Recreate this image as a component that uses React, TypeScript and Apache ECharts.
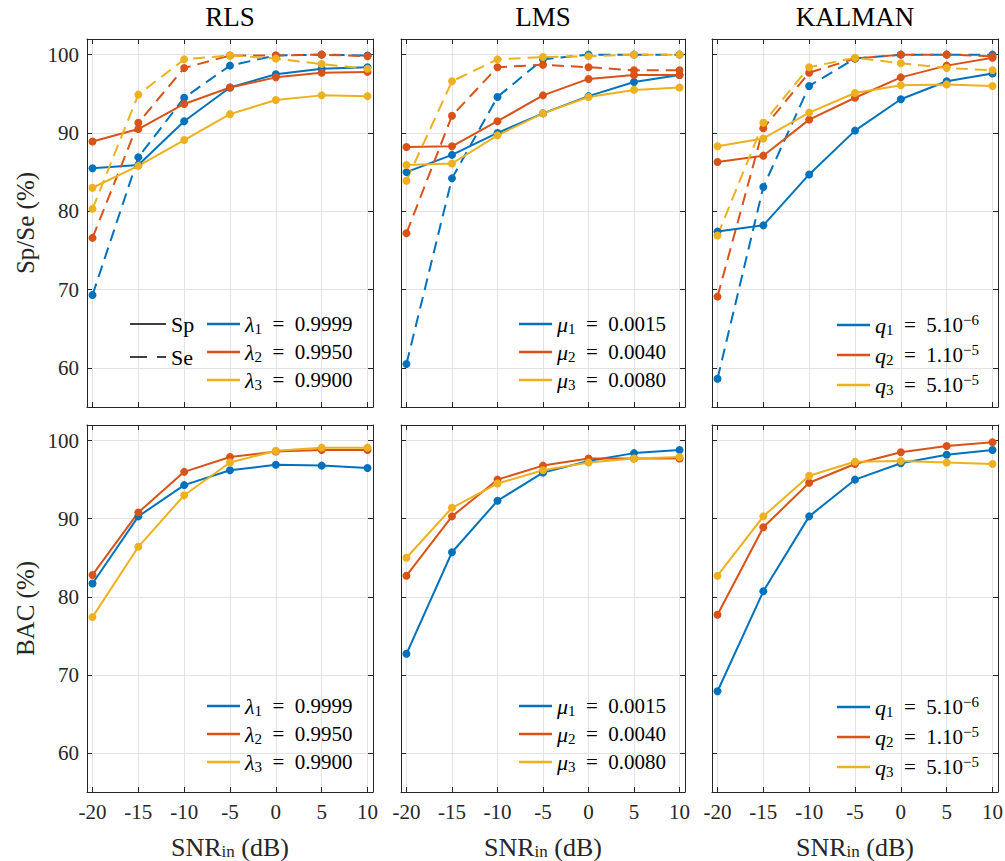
import React, { useEffect, useRef } from 'react';
import * as echarts from 'echarts';

// ---------- data ----------
const snr = [-20, -15, -10, -5, 0, 5, 10];
const xTicks = [-20, -15, -10, -5, 0, 5, 10];
const yTicks = [60, 70, 80, 90, 100];
const methods = ['RLS', 'LMS', 'KALMAN'];

// Specificity (solid) and Sensitivity (dashed)
const spRLS1 = [85.5, 85.9, 91.5, 95.8, 97.5, 98.2, 98.4];
const spRLS2 = [88.9, 90.5, 93.7, 95.8, 97.1, 97.7, 97.8];
const spRLS3 = [83.0, 85.8, 89.1, 92.4, 94.2, 94.8, 94.7];
const seRLS1 = [69.3, 86.9, 94.5, 98.6, 99.9, 100, 99.9];
const seRLS2 = [76.6, 91.3, 98.3, 99.9, 99.9, 100, 99.8];
const seRLS3 = [80.3, 94.9, 99.4, 99.9, 99.5, 98.8, 98.2];

const spLMS1 = [85.0, 87.2, 90.0, 92.5, 94.7, 96.5, 97.4];
const spLMS2 = [88.2, 88.3, 91.5, 94.8, 96.9, 97.4, 97.4];
const spLMS3 = [85.9, 86.1, 89.7, 92.5, 94.6, 95.5, 95.8];
const seLMS1 = [60.5, 84.2, 94.6, 99.4, 100, 100, 100];
const seLMS2 = [77.2, 92.2, 98.4, 98.7, 98.4, 98.0, 98.0];
const seLMS3 = [83.9, 96.6, 99.4, 99.7, 99.8, 100, 100];

const spKAL1 = [77.4, 78.2, 84.7, 90.3, 94.3, 96.6, 97.6];
const spKAL2 = [86.3, 87.1, 91.7, 94.5, 97.1, 98.6, 99.6];
const spKAL3 = [88.3, 89.3, 92.6, 95.1, 96.1, 96.2, 96.0];
const seKAL1 = [58.6, 83.1, 96.0, 99.5, 100, 100, 100];
const seKAL2 = [69.1, 90.6, 97.7, 99.5, 100, 100, 99.8];
const seKAL3 = [76.9, 91.3, 98.4, 99.6, 98.9, 98.3, 98.0];

// Balanced accuracy
const bacRLS1 = [81.7, 90.3, 94.3, 96.2, 96.9, 96.8, 96.5];
const bacRLS2 = [82.8, 90.8, 96.0, 97.9, 98.6, 98.8, 98.8];
const bacRLS3 = [77.4, 86.4, 93.0, 97.2, 98.7, 99.1, 99.1];
const bacLMS1 = [72.7, 85.7, 92.3, 95.9, 97.4, 98.4, 98.8];
const bacLMS2 = [82.7, 90.3, 95.0, 96.8, 97.7, 97.7, 97.7];
const bacLMS3 = [85.0, 91.4, 94.5, 96.2, 97.2, 97.7, 97.9];
const bacKAL1 = [67.9, 80.7, 90.3, 95.0, 97.1, 98.2, 98.8];
const bacKAL2 = [77.7, 88.9, 94.6, 97.0, 98.5, 99.3, 99.8];
const bacKAL3 = [82.7, 90.3, 95.5, 97.3, 97.4, 97.2, 97.0];

const spData = [[spRLS1, spRLS2, spRLS3], [spLMS1, spLMS2, spLMS3], [spKAL1, spKAL2, spKAL3]];
const seData = [[seRLS1, seRLS2, seRLS3], [seLMS1, seLMS2, seLMS3], [seKAL1, seKAL2, seKAL3]];
const bacData = [[bacRLS1, bacRLS2, bacRLS3], [bacLMS1, bacLMS2, bacLMS3], [bacKAL1, bacKAL2, bacKAL3]];

const EQ = '\u2002=\u2002';
const paramLabels: Record<string, string[]> = {
  RLS: [`{g|λ}{s|1}{t|${EQ}0.9999}`, `{g|λ}{s|2}{t|${EQ}0.9950}`, `{g|λ}{s|3}{t|${EQ}0.9900}`],
  LMS: [`{g|μ}{s|1}{t|${EQ}0.0015}`, `{g|μ}{s|2}{t|${EQ}0.0040}`, `{g|μ}{s|3}{t|${EQ}0.0080}`],
  KALMAN: [`{g|q}{s|1}{t|${EQ}5.10}{p|−6}`, `{g|q}{s|2}{t|${EQ}1.10}{p|−5}`, `{g|q}{s|3}{t|${EQ}5.10}{p|−5}`],
};

// ---------- style ----------
const colors = ['#0072BD', '#D95319', '#EDB120'];
const FONT = 'Liberation Serif';
const AX = '#262626';
const GRIDC = '#e3e3e3';

const gridLefts = [87, 401, 712];
const gridWidths = [286, 284, 286];
const rowTops = [39, 425];
const rowHeights = [368, 367];
const legendLefts = [207, 519, 837];
const legendTops = [312, 694];

function buildOption() {
  const grids: any[] = [];
  const xAxes: any[] = [];
  const yAxes: any[] = [];
  const series: any[] = [];
  const legends: any[] = [];
  const titles: any[] = [];

  const rich = {
    g: { fontFamily: FONT, fontSize: 22, fontStyle: 'italic', lineHeight: 22, color: '#000' },
    s: { fontFamily: FONT, fontSize: 15, lineHeight: 22, padding: [9, 0, 0, 0], color: '#000' },
    t: { fontFamily: FONT, fontSize: 21, lineHeight: 22, color: '#000' },
    p: { fontFamily: FONT, fontSize: 15, lineHeight: 22, padding: [0, 0, 11, 0], color: '#000' },
  };

  for (let row = 0; row < 2; row++) {
    for (let col = 0; col < 3; col++) {
      const gi = row * 3 + col;
      grids.push({
        left: gridLefts[col], top: rowTops[row], width: gridWidths[col], height: rowHeights[row],
        outerBoundsMode: 'none',
      });
      const common = {
        gridIndex: gi, type: 'value', min: -20.6, max: 10.6,
        axisLine: { show: true, onZero: false, lineStyle: { color: AX, width: 1 } },
        axisTick: { show: true, inside: true, length: 5, customValues: xTicks, lineStyle: { color: AX } },
      };
      xAxes.push({
        ...common, position: 'bottom',
        axisLabel: {
          show: row === 1, customValues: xTicks, fontFamily: FONT, fontSize: 21, color: AX, margin: 9,
        },
        splitLine: { show: true, lineStyle: { color: GRIDC, width: 1 } },
        name: row === 1 ? '{a|SNR}{s|in}{a| (dB)}' : '',
        nameLocation: 'middle', nameGap: 41,
        nameTextStyle: {
          fontFamily: FONT, fontSize: 26, color: AX,
          rich: {
            a: { fontFamily: FONT, fontSize: 26, lineHeight: 28, color: AX },
            s: { fontFamily: FONT, fontSize: 17, lineHeight: 28, padding: [9, 0, 0, 0], color: AX },
          },
        },
      });
      xAxes.push({
        ...common, position: 'top', axisLabel: { show: false }, splitLine: { show: false },
      });
      const ycommon = {
        gridIndex: gi, type: 'value', min: 55, max: 102,
        axisLine: { show: true, onZero: false, lineStyle: { color: AX, width: 1 } },
        axisTick: { show: true, inside: true, length: 5, customValues: yTicks, lineStyle: { color: AX } },
      };
      yAxes.push({
        ...ycommon, position: 'left',
        axisLabel: { show: col === 0, customValues: yTicks, fontFamily: FONT, fontSize: 21, color: AX, margin: 8 },
        splitLine: { show: true, lineStyle: { color: GRIDC, width: 1 } },
        name: col === 0 ? (row === 0 ? 'Sp/Se (%)' : 'BAC (%)') : '',
        nameLocation: 'middle', nameGap: 49,
        nameTextStyle: { fontFamily: FONT, fontSize: 25, color: AX },
      });
      yAxes.push({
        ...ycommon, position: 'right', axisLabel: { show: false }, splitLine: { show: false },
      });

      const m = methods[col];
      const legendNames: string[] = [];
      for (let k = 0; k < 3; k++) {
        const mk = (name: string, vals: number[], dashed: boolean) => ({
          type: 'line', name,
          data: snr.map((x, i) => [x, vals[i]]),
          xAxisIndex: 2 * gi, yAxisIndex: 2 * gi,
          symbol: 'circle', symbolSize: 8, showSymbol: true,
          itemStyle: { color: colors[k] },
          lineStyle: { color: colors[k], width: 2, type: dashed ? [12, 7] : 'solid' },
          emphasis: { disabled: true }, silent: true,
        });
        if (row === 0) {
          const nm = `${m}-Sp-${k}`;
          legendNames.push(nm);
          series.push(mk(nm, spData[col][k], false));
          series.push(mk(`${m}-Se-${k}`, seData[col][k], true));
        } else {
          const nm = `${m}-BAC-${k}`;
          legendNames.push(nm);
          series.push(mk(nm, bacData[col][k], false));
        }
      }
      legends.push({
        data: legendNames.map((n) => ({ name: n, icon: 'rect' })),
        orient: 'vertical', left: legendLefts[col], top: legendTops[row], padding: 0,
        itemWidth: 33, itemHeight: 2.5, itemGap: 4, selectedMode: false,
        textStyle: { fontFamily: FONT, fontSize: 21, color: '#000', rich },
        formatter: (name: string) => {
          const parts = name.split('-');
          return paramLabels[parts[0]][Number(parts[2])];
        },
      });
      if (row === 0) {
        titles.push({
          text: m, left: gridLefts[col] + gridWidths[col] / 2, top: 3, textAlign: 'center', padding: 0,
          textStyle: { fontFamily: FONT, fontSize: 27, fontWeight: 'normal', color: '#000' },
        });
      }
    }
  }

  // Line-style key (Sp solid / Se dashed)
  series.push({
    type: 'line', name: 'Sp', data: [], xAxisIndex: 0, yAxisIndex: 0,
    itemStyle: { color: '#000' }, lineStyle: { color: '#000', width: 1 }, silent: true,
  });
  series.push({
    type: 'line', name: 'Se', data: [], xAxisIndex: 0, yAxisIndex: 0,
    itemStyle: { color: '#000' }, lineStyle: { color: '#000', width: 1, type: 'dashed' }, silent: true,
  });
  legends.push({
    data: [
      { name: 'Sp', icon: 'rect' },
      { name: 'Se', icon: 'path://M0,0H17V2H0Z M27,0H36V2H27Z' },
    ],
    orient: 'vertical', left: 130, top: 313, padding: 0, symbolKeepAspect: false,
    itemWidth: 36, itemHeight: 1.5, itemGap: 11, selectedMode: false,
    textStyle: { fontFamily: FONT, fontSize: 22, color: '#000', lineHeight: 22 },
  });

  return {
    animation: false,
    backgroundColor: '#ffffff',
    textStyle: { fontFamily: FONT },
    title: titles,
    grid: grids,
    xAxis: xAxes,
    yAxis: yAxes,
    legend: legends,
    series,
  };
}

export default function App() {
  const ref = useRef<HTMLDivElement>(null);
  useEffect(() => {
    document.body.style.margin = '0';
    if (!ref.current) return;
    const chart = echarts.init(ref.current, undefined, { renderer: 'svg' });
    chart.setOption(buildOption() as any);
    return () => chart.dispose();
  }, []);
  return <div ref={ref} style={{ width: 1005, height: 861 }} />;
}
